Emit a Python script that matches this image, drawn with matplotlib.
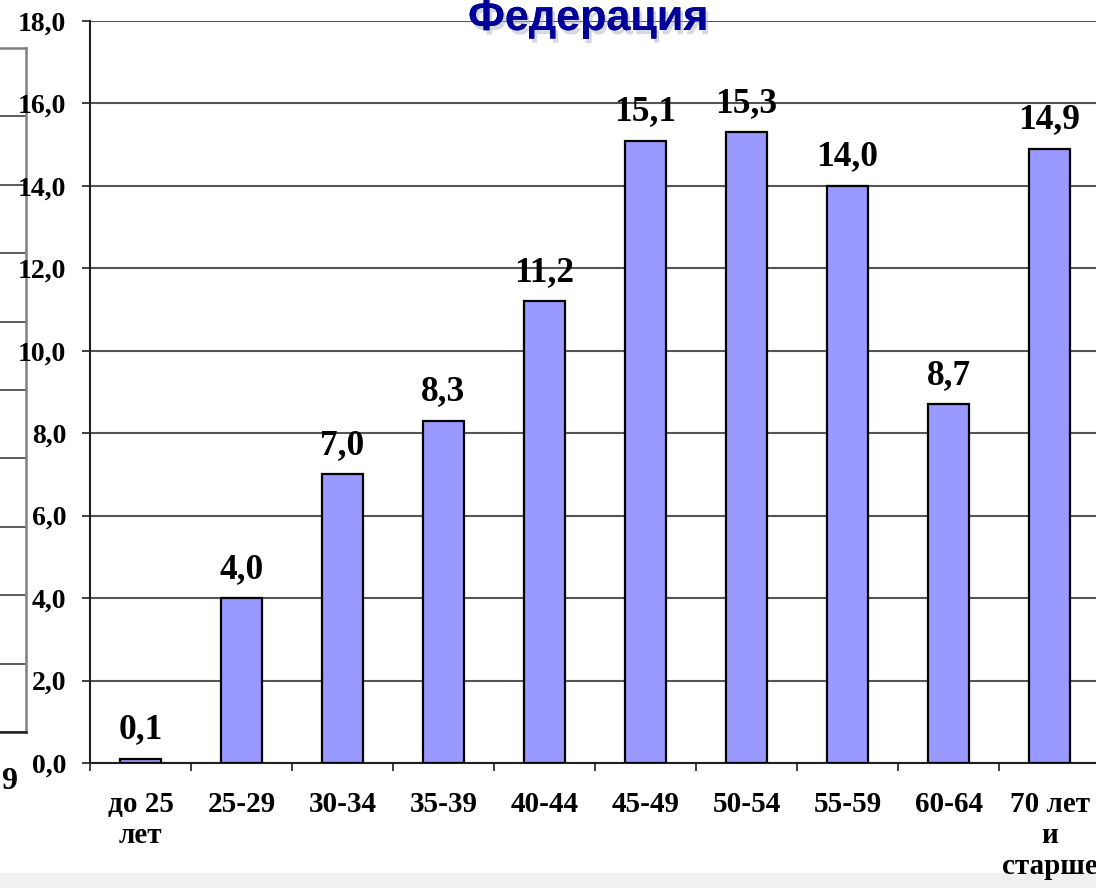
import matplotlib
matplotlib.use('Agg')
import matplotlib.pyplot as plt
import matplotlib.patheffects as pe
import numpy as np

categories = ['до 25\nлет', '25-29', '30-34', '35-39', '40-44', '45-49',
              '50-54', '55-59', '60-64', '70 лет\nи\nстарше']
values = [0.1, 4.0, 7.0, 8.3, 11.2, 15.1, 15.3, 14.0, 8.7, 14.9]
yticks = [0, 2, 4, 6, 8, 10, 12, 14, 16, 18]
title = 'Федерация'

W, H = 1096, 888
fig = plt.figure(figsize=(W / 100, H / 100), dpi=100)
fig.patch.set_facecolor('white')

# light band at the very bottom of the slide (behind everything)
fig.patches.append(plt.Rectangle((0, 0), 1, 15 / H, transform=fig.transFigure,
                                 facecolor='#f0f0f0', edgecolor='none',
                                 zorder=-5))

# remnant of a neighbouring chart at the left edge
ax0 = fig.add_axes([-0.2, 1 - 732 / H, 0.2 + 26 / W, 684 / H])
ax0.set_xlim(0, 1)
ax0.set_ylim(0, 10)
ax0.set_yticks(range(11))
ax0.set_xticks([])
ax0.tick_params(left=False, labelleft=False)
ax0.grid(axis='y', color='#404040', linewidth=1.2)
ax0.spines['left'].set_visible(False)
for s in ['top', 'right', 'bottom']:
    ax0.spines[s].set_color('#808080')
    ax0.spines[s].set_linewidth(1.8)
ax0.spines['bottom'].set_color('#202020')
ax0.patch.set_alpha(0)
fig.text(1 / W, 1 - 789 / H, '9', ha='left', va='baseline',
         fontsize=23, fontweight='bold', family='Liberation Serif')

# main chart
ax = fig.add_axes([90 / W, 1 - 763 / H, 1010 / W, 742 / H])
ax.patch.set_alpha(0)
x = np.arange(len(categories))
ax.bar(x, values, width=0.4, color='#9999ff', edgecolor='black',
       linewidth=1.6, zorder=3)
ax.set_xlim(-0.5, len(categories) - 0.5)
ax.set_ylim(0, 18)
ax.set_yticks(yticks)
ax.set_yticklabels([('%.1f' % v).replace('.', ',') for v in yticks],
                   fontsize=20, fontweight='bold', family='Liberation Serif')
ax.set_xticks(x)
ax.set_xticklabels(categories, fontsize=21, fontweight='bold',
                   family='Liberation Serif', linespacing=1.2)
ax.set_xticks(np.arange(len(categories) + 1) - 0.5, minor=True)
ax.tick_params(axis='x', which='major', length=0, pad=20)
ax.tick_params(axis='x', which='minor', length=6, width=1.3, color='#303030')
ax.tick_params(axis='y', length=6, width=1.3, pad=11, color='#303030')
ax.grid(axis='y', color='#555555', linewidth=1.5, zorder=0)
ax.set_axisbelow(True)
for s in ['top', 'right']:
    ax.spines[s].set_visible(False)
for s in ['left', 'bottom']:
    ax.spines[s].set_linewidth(1.5)
    ax.spines[s].set_color('#202020')

for xi, v in zip(x, values):
    ax.annotate(('%.1f' % v).replace('.', ','), (xi, v), xytext=(0, 9),
                textcoords='offset points', ha='center', va='bottom',
                fontsize=25.5, fontweight='bold', family='Liberation Serif',
                zorder=4)

fig.text(588 / W, 1 - 30 / H, title, ha='center', va='baseline',
         fontsize=31, fontweight='bold', family='Liberation Sans',
         color='#000099',
         path_effects=[pe.withSimplePatchShadow(offset=(2, -3),
                                                shadow_rgbFace='#b0b0c0',
                                                alpha=0.5),
                       pe.Normal()])

fig.savefig('out.png', dpi=100)
